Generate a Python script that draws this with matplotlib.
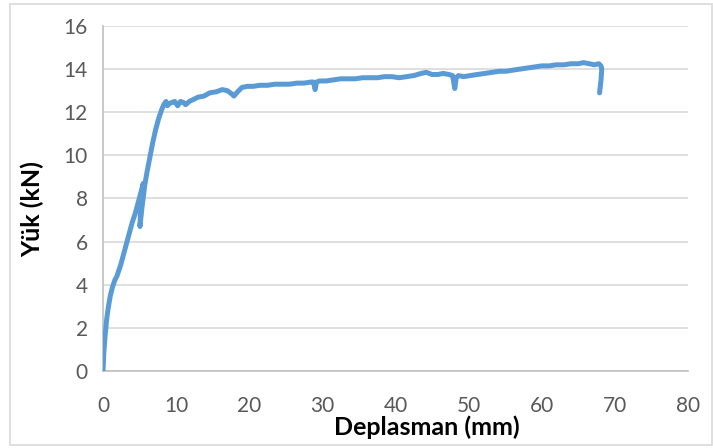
import matplotlib
matplotlib.use("Agg")
import matplotlib.pyplot as plt
from matplotlib.patches import Rectangle

# Load-displacement record (displacement in mm, load in kN)
deplasman = [
    0.0, 0.1, 0.3, 0.5, 0.7, 1.0, 1.3, 1.6, 1.9, 2.1, 2.4, 2.8, 3.2, 3.6,
    4.0, 4.4, 4.8, 5.2, 5.5, 5.3, 5.1, 5.05, 5.3, 5.7, 6.0, 6.4, 6.8, 7.2,
    7.6, 8.0, 8.3, 8.6, 8.8, 9.0, 9.4, 9.8, 10.2, 10.6, 11.0, 11.3, 11.8,
    12.4, 13.0, 13.8, 14.6, 15.5, 16.3, 17.0, 17.6, 17.9, 18.4, 19.0, 19.7,
    20.5, 21.5, 22.5, 23.5, 24.5, 25.5, 26.5, 27.5, 28.4, 28.8, 29.0, 29.2,
    29.6, 30.5, 31.5, 32.5, 33.5, 34.5, 35.5, 36.6, 37.5, 38.5, 39.5, 40.5,
    41.5, 42.5, 43.5, 44.2, 45.0, 45.8, 46.5, 47.3, 47.8, 48.1, 48.3, 48.6,
    49.3, 50.2, 51.2, 52.2, 53.2, 54.2, 55.1, 56.0, 57.0, 58.0, 59.0, 60.0,
    61.0, 62.0, 63.0, 64.0, 65.0, 65.7, 66.5, 67.2, 67.8, 68.1, 68.2, 68.1,
    67.9,
]
yuk = [
    0.0, 0.8, 1.7, 2.4, 2.9, 3.5, 3.9, 4.2, 4.4, 4.6, 4.9, 5.4, 5.9, 6.4,
    6.9, 7.3, 7.8, 8.3, 8.7, 8.0, 7.2, 6.7, 7.5, 8.6, 9.2, 9.9, 10.6, 11.2,
    11.7, 12.1, 12.35, 12.5, 12.3, 12.4, 12.45, 12.5, 12.3, 12.5, 12.45,
    12.35, 12.5, 12.6, 12.7, 12.75, 12.9, 12.95, 13.05, 13.0, 12.85, 12.75,
    12.95, 13.15, 13.2, 13.2, 13.25, 13.25, 13.3, 13.3, 13.3, 13.35, 13.35,
    13.4, 13.4, 13.05, 13.4, 13.45, 13.45, 13.5, 13.55, 13.55, 13.55, 13.6,
    13.6, 13.6, 13.65, 13.65, 13.6, 13.65, 13.7, 13.8, 13.85, 13.75, 13.75,
    13.8, 13.75, 13.7, 13.1, 13.6, 13.7, 13.65, 13.7, 13.75, 13.8, 13.85,
    13.9, 13.9, 13.95, 14.0, 14.05, 14.1, 14.15, 14.15, 14.2, 14.2, 14.25,
    14.25, 14.3, 14.25, 14.2, 14.25, 14.15, 14.0, 13.5, 12.9,
]

x_ticks = [0, 10, 20, 30, 40, 50, 60, 70, 80]
y_ticks = [0, 2, 4, 6, 8, 10, 12, 14, 16]

plt.rcParams["font.family"] = ["Lato", "DejaVu Sans"]

fig = plt.figure(figsize=(7.13, 4.48), dpi=100)
ax = fig.add_axes([0.1445, 0.1719, 0.8205, 0.7701])

ax.plot(deplasman, yuk, color="#5b9bd5", linewidth=3.6,
        solid_joinstyle="round", solid_capstyle="round", zorder=3)

ax.set_xlim(0, 80)
ax.set_ylim(0, 16)
ax.set_xticks(x_ticks)
ax.set_yticks(y_ticks)
ax.grid(axis="y", color="#d9d9d9", linewidth=1.2, zorder=0)
ax.set_axisbelow(True)

for side in ("top", "right"):
    ax.spines[side].set_visible(False)
for side in ("left", "bottom"):
    ax.spines[side].set_color("#bfbfbf")
    ax.spines[side].set_linewidth(1.2)

ax.tick_params(axis="both", length=0, labelsize=15, labelcolor="#595959")
ax.tick_params(axis="x", pad=18)
ax.tick_params(axis="y", pad=11)

ax.set_xlabel("Deplasman (mm)", fontsize=18, fontweight="bold",
              color="black")
ax.set_ylabel("Yük (kN)", fontsize=18, fontweight="bold", color="black")
ax.xaxis.set_label_coords(0.554, -0.128)
ax.yaxis.set_label_coords(-0.101, 0.47)

# Chart frame
fig.patches.append(Rectangle((10 / 713, 3 / 448), 702 / 713, 441 / 448,
                             transform=fig.transFigure, fill=False,
                             edgecolor="#d9d9d9", linewidth=1.2))

fig.savefig("out.png", dpi=100)
